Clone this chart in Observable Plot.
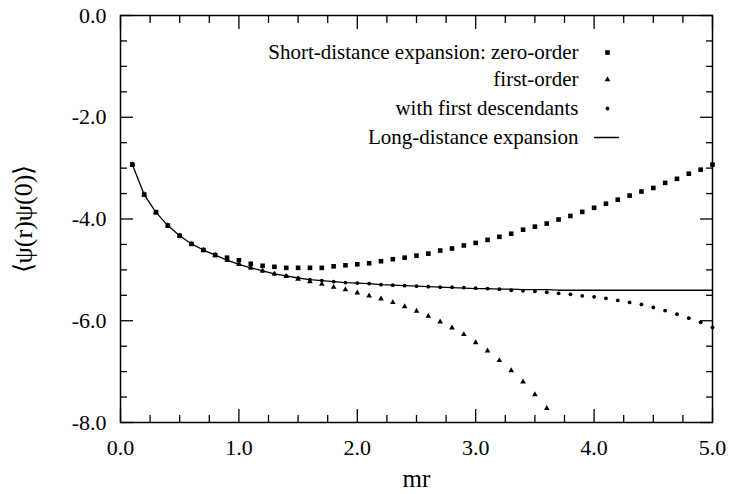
<!DOCTYPE html>
<html><head><meta charset="utf-8">
<script src="https://cdn.jsdelivr.net/npm/d3@7"></script>
<script src="https://cdn.jsdelivr.net/npm/@observablehq/plot@0.6"></script>
<style>
html,body{margin:0;padding:0;background:#fff}
#chart svg, #chart svg text { font-family: "Liberation Serif", Tinos, "Times New Roman", Times, serif !important; }
</style>
</head><body><div id="chart"></div>
<script>
const mr = [0.1,0.2,0.3,0.4,0.5,0.6,0.7,0.8,0.9,1.0,1.1,1.2,1.3,1.4,1.5,1.6,1.7,1.8,1.9,2.0,2.1,2.2,2.3,2.4,2.5,2.6,2.7,2.8,2.9,3.0,3.1,3.2,3.3,3.4,3.5,3.6,3.7,3.8,3.9,4.0,4.1,4.2,4.3,4.4,4.5,4.6,4.7,4.8,4.9,5.0];
const zeroOrder = [-2.93,-3.52,-3.87,-4.13,-4.33,-4.49,-4.61,-4.71,-4.76,-4.81,-4.88,-4.92,-4.94,-4.96,-4.96,-4.96,-4.96,-4.93,-4.91,-4.89,-4.87,-4.83,-4.79,-4.76,-4.72,-4.68,-4.62,-4.58,-4.52,-4.47,-4.41,-4.35,-4.29,-4.21,-4.15,-4.09,-4.01,-3.94,-3.86,-3.78,-3.70,-3.62,-3.54,-3.46,-3.39,-3.29,-3.21,-3.11,-3.03,-2.93];
const firstOrder = [-2.93,-3.52,-3.87,-4.13,-4.33,-4.49,-4.61,-4.71,-4.81,-4.89,-4.96,-5.02,-5.08,-5.13,-5.18,-5.23,-5.28,-5.34,-5.39,-5.45,-5.51,-5.57,-5.64,-5.72,-5.81,-5.91,-6.02,-6.14,-6.27,-6.43,-6.59,-6.78,-6.98,-7.20,-7.45,-7.72];
const withDescendants = [-2.93,-3.52,-3.87,-4.13,-4.33,-4.49,-4.61,-4.71,-4.81,-4.89,-4.96,-5.02,-5.08,-5.12,-5.16,-5.19,-5.21,-5.23,-5.25,-5.26,-5.27,-5.29,-5.30,-5.31,-5.32,-5.33,-5.34,-5.34,-5.35,-5.36,-5.37,-5.38,-5.40,-5.41,-5.42,-5.44,-5.46,-5.48,-5.51,-5.53,-5.56,-5.60,-5.64,-5.68,-5.74,-5.80,-5.87,-5.95,-6.03,-6.13];
const longDistance = [-2.93,-3.52,-3.87,-4.13,-4.33,-4.49,-4.61,-4.71,-4.81,-4.89,-4.96,-5.02,-5.08,-5.12,-5.16,-5.19,-5.21,-5.23,-5.25,-5.26,-5.27,-5.29,-5.30,-5.31,-5.32,-5.33,-5.34,-5.35,-5.36,-5.37,-5.37,-5.38,-5.38,-5.39,-5.39,-5.39,-5.40,-5.40,-5.40,-5.40,-5.40,-5.40,-5.40,-5.40,-5.40,-5.40,-5.40,-5.40,-5.40,-5.40];

const xMajorTicks = [0,1,2,3,4,5];
const xMinorTicks = [0.25,0.5,0.75,1.25,1.5,1.75,2.25,2.5,2.75,3.25,3.5,3.75,4.25,4.5,4.75];
const yMajorTicks = [0,-2,-4,-6,-8];
const yMinorTicks = [-0.5,-1,-1.5,-2.5,-3,-3.5,-4.5,-5,-5.5,-6.5,-7,-7.5];

const legendLabels = ["Short-distance expansion: zero-order","first-order","with first descendants","Long-distance expansion"];
const legendSymbols = ["square","triangle","circle","line"];
const xLabel = "mr";
const yLabel = "\u27E8\u03C8(r)\u03C8(0)\u27E9";

const serif = "Liberation Serif, Tinos, Times New Roman, Times, serif";
const toRows = (ys) => ys.map((y, i) => ({x: mr[i], y}));
const fmt = d => d.toFixed(1);
const symR = {square: 2.6, triangle: 2.1, circle: 1.9};

const majorLen = 13, minorLen = 7;
const tickAxes = [];
for (const [anchor, len, ticks] of [["bottom",majorLen,xMajorTicks],["bottom",minorLen,xMinorTicks],["top",majorLen,xMajorTicks],["top",minorLen,xMinorTicks]]) {
  tickAxes.push(Plot.axisX(ticks, {anchor, tickSize: -len, tickFormat: () => "", label: null, strokeWidth: 1.3}));
}
for (const [anchor, len, ticks] of [["left",majorLen,yMajorTicks],["left",minorLen,yMinorTicks],["right",majorLen,yMajorTicks],["right",minorLen,yMinorTicks]]) {
  tickAxes.push(Plot.axisY(ticks, {anchor, tickSize: -len, tickFormat: () => "", label: null, strokeWidth: 1.3}));
}

const legendMarks = [];
const rowDy = [37, 64, 93, 122];
legendLabels.forEach((lab, i) => {
  legendMarks.push(Plot.text([lab], {frameAnchor: "top-right", dx: -134, dy: rowDy[i], textAnchor: "end", lineAnchor: "middle", fontSize: 21, fontFamily: serif, fill: "black"}));
  const s = legendSymbols[i];
  if (s === "line") {
    legendMarks.push(Plot.vector([0], {frameAnchor: "top-right", dx: -118, dy: rowDy[i], length: 24, rotate: 90, anchor: "start", stroke: "black", strokeWidth: 1.3,
      shape: {draw(ctx, l) { ctx.moveTo(0, 0); ctx.lineTo(0, -l); }}}));
  } else {
    legendMarks.push(Plot.dot([0], {frameAnchor: "top-right", dx: -105, dy: rowDy[i], symbol: s, r: symR[s], fill: "black", stroke: "none"}));
  }
});

const chart = Plot.plot({
  width: 729, height: 494,
  marginLeft: 120, marginRight: 17, marginTop: 15, marginBottom: 72,
  style: {fontFamily: serif, fontSize: "22px", color: "black", background: "white"},
  x: {domain: [0, 5]},
  y: {domain: [-8, 0]},
  marks: [
    Plot.axisX(xMajorTicks, {anchor: "bottom", tickSize: 0, tickPadding: 17, tickFormat: fmt, label: null, fontSize: 22, fontFamily: serif}),
    Plot.axisY(yMajorTicks, {anchor: "left", tickSize: 0, tickPadding: 14, tickFormat: fmt, label: null, fontSize: 22, fontFamily: serif}),
    ...tickAxes,
    Plot.line(toRows(longDistance), {x: "x", y: "y", stroke: "black", strokeWidth: 1.3}),
    Plot.dot(toRows(zeroOrder), {x: "x", y: "y", symbol: "square", r: symR.square, fill: "black", stroke: "none"}),
    Plot.dot(toRows(firstOrder), {x: "x", y: "y", symbol: "triangle", r: symR.triangle, fill: "black", stroke: "none"}),
    Plot.dot(toRows(withDescendants), {x: "x", y: "y", symbol: "circle", r: symR.circle, fill: "black", stroke: "none"}),
    Plot.frame({stroke: "black", strokeWidth: 1.5}),
    ...legendMarks,
    Plot.text([xLabel], {frameAnchor: "bottom", dy: 56, textAnchor: "middle", lineAnchor: "middle", fontSize: 25, fontFamily: serif, fill: "black"}),
    Plot.text([yLabel], {frameAnchor: "left", dx: -97, rotate: -90, textAnchor: "middle", lineAnchor: "middle", fontSize: 26, fontFamily: serif, fill: "black"})
  ]
});
document.getElementById("chart").appendChild(chart);
</script>
</body></html>
